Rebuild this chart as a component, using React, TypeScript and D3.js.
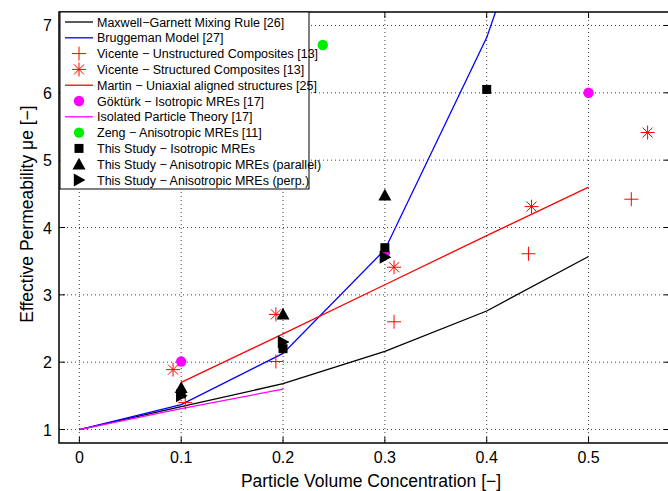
import React from "react";
import * as d3 from "d3";

const W = 668;
const H = 491;

// Data
const mgX = [0, 0.1, 0.2, 0.3, 0.4, 0.5];
const mgY = [1, 1.34, 1.68, 2.16, 2.76, 3.57];
const brX = [0, 0.1, 0.2, 0.3, 0.4, 0.5];
const brY = [1, 1.37, 2.13, 3.67, 6.82, 11.2];
const martinX = [0.1, 0.2, 0.3, 0.4, 0.5];
const martinY = [1.7, 2.42, 3.15, 3.88, 4.6];
const isoX = [0, 0.1, 0.2];
const isoY = [1, 1.31, 1.6];
const vicUX = [0.104, 0.193, 0.309, 0.441, 0.542];
const vicUY = [1.4, 2.01, 2.6, 3.61, 4.42];
const vicSX = [0.092, 0.193, 0.309, 0.444, 0.558];
const vicSY = [1.89, 2.71, 3.41, 4.31, 5.41];
const gokX = [0.1, 0.3, 0.5];
const gokY = [2.01, 3.62, 6.0];
const zengX = [0.239];
const zengY = [6.71];
const isoMreX = [0.1, 0.2, 0.3, 0.4];
const isoMreY = [1.53, 2.2, 3.7, 6.05];
const parX = [0.1, 0.2, 0.3];
const parY = [1.62, 2.71, 4.48];
const perpX = [0.1, 0.2, 0.3];
const perpY = [1.5, 2.3, 3.56];

const xTicks = [0, 0.1, 0.2, 0.3, 0.4, 0.5];
const yTicks = [1, 2, 3, 4, 5, 6, 7];

const MINUS = "\u2212";
const xLabel = "Particle Volume Concentration [" + MINUS + "]";
const yLabel = "Effective Permeability \u03bce [" + MINUS + "]";

const legendItems = [
  { label: "Maxwell" + MINUS + "Garnett Mixing Rule [26]", kind: "line", color: "#000000" },
  { label: "Bruggeman Model [27]", kind: "line", color: "#0000ff" },
  { label: "Vicente " + MINUS + " Unstructured Composites [13]", kind: "plus", color: "#ff0000" },
  { label: "Vicente " + MINUS + " Structured Composites [13]", kind: "star", color: "#ff0000" },
  { label: "Martin " + MINUS + " Uniaxial aligned structures [25]", kind: "line", color: "#ff0000" },
  { label: "G\u00f6kt\u00fcrk " + MINUS + " Isotropic MREs [17]", kind: "circle", color: "#ff00ff" },
  { label: "Isolated Particle Theory [17]", kind: "line", color: "#ff00ff" },
  { label: "Zeng " + MINUS + " Anisotropic MREs [11]", kind: "circle", color: "#00ee00" },
  { label: "This Study " + MINUS + " Isotropic MREs", kind: "square", color: "#000000" },
  { label: "This Study " + MINUS + " Anisotropic MREs (parallel)", kind: "tri", color: "#000000" },
  { label: "This Study " + MINUS + " Anisotropic MREs (perp.)", kind: "tri-r", color: "#000000" },
];

const L = 59, R = 670, T = 12, B = 443;
const x = d3.scaleLinear().domain([-0.02, 0.58]).range([L, R]);
const y = d3.scaleLinear().domain([0.8, 7.2]).range([B, T]);

function Marker({ kind, cx, cy, color }: { kind: string; cx: number; cy: number; color: string }) {
  if (kind === "plus") {
    const s = 7;
    return (
      <g stroke={color} strokeWidth={1}>
        <line x1={cx - s} x2={cx + s} y1={cy} y2={cy} />
        <line x1={cx} x2={cx} y1={cy - s} y2={cy + s} />
      </g>
    );
  }
  if (kind === "star") {
    const s = 7;
    const d = s * 0.72;
    return (
      <g stroke={color} strokeWidth={1}>
        <line x1={cx - s} x2={cx + s} y1={cy} y2={cy} />
        <line x1={cx} x2={cx} y1={cy - s} y2={cy + s} />
        <line x1={cx - d} x2={cx + d} y1={cy - d} y2={cy + d} />
        <line x1={cx - d} x2={cx + d} y1={cy + d} y2={cy - d} />
      </g>
    );
  }
  if (kind === "circle") {
    return <circle cx={cx} cy={cy} r={5.2} fill={color} />;
  }
  if (kind === "square") {
    return <rect x={cx - 4.5} y={cy - 4.5} width={9} height={9} fill={color} />;
  }
  if (kind === "tri") {
    const s = 6.5;
    return <path d={`M${cx},${cy - s}L${cx + s},${cy + s * 0.8}L${cx - s},${cy + s * 0.8}Z`} fill={color} />;
  }
  if (kind === "tri-r") {
    const s = 6.5;
    return <path d={`M${cx + s},${cy}L${cx - s * 0.8},${cy - s}L${cx - s * 0.8},${cy + s}Z`} fill={color} />;
  }
  return null;
}

function zipPts(xs: number[], ys: number[]) {
  return xs.map((v, i) => [v, ys[i]] as [number, number]);
}

export default function App() {
  const line = d3
    .line<[number, number]>()
    .x((d) => x(d[0]))
    .y((d) => y(d[1]));

  const font = "'Liberation Sans', Arial, Helvetica, sans-serif";

  const lines = [
    { xs: mgX, ys: mgY, color: "#000000" },
    { xs: brX, ys: brY, color: "#0000ff" },
    { xs: martinX, ys: martinY, color: "#ff0000" },
    { xs: isoX, ys: isoY, color: "#ff00ff" },
  ];

  const markerSets = [
    { xs: vicUX, ys: vicUY, kind: "plus", color: "#ff0000" },
    { xs: vicSX, ys: vicSY, kind: "star", color: "#ff0000" },
    { xs: gokX, ys: gokY, kind: "circle", color: "#ff00ff" },
    { xs: zengX, ys: zengY, kind: "circle", color: "#00ee00" },
    { xs: isoMreX, ys: isoMreY, kind: "square", color: "#000000" },
    { xs: parX, ys: parY, kind: "tri", color: "#000000" },
    { xs: perpX, ys: perpY, kind: "tri-r", color: "#000000" },
  ];

  const lgX = 60, lgY = 12, lgW = 249, lgH = 177;
  const rowH = 15.8;

  return (
    <svg width={W} height={H} style={{ position: "absolute", left: 0, top: 0, background: "#fff" }} fontFamily={font}>
      <defs>
        <clipPath id="plotClip">
          <rect x={L} y={T} width={R - L} height={B - T} />
        </clipPath>
      </defs>
      <rect x={0} y={0} width={W} height={H} fill="#fff" />
      {/* grid */}
      <g stroke="#000" strokeWidth={1} strokeDasharray="1,3" opacity={0.75}>
        {xTicks.map((t) => (
          <line key={"gx" + t} x1={x(t)} x2={x(t)} y1={T} y2={B} />
        ))}
        {yTicks.map((t) => (
          <line key={"gy" + t} x1={L} x2={R} y1={y(t)} y2={y(t)} />
        ))}
      </g>
      {/* lines */}
      <g clipPath="url(#plotClip)" fill="none" strokeWidth={1.3}>
        {lines.map((l, i) => (
          <path key={i} d={line(zipPts(l.xs, l.ys)) || ""} stroke={l.color} />
        ))}
      </g>
      {/* markers */}
      <g clipPath="url(#plotClip)">
        {markerSets.map((m, i) =>
          m.xs.map((v, j) => <Marker key={i + "-" + j} kind={m.kind} cx={x(v)} cy={y(m.ys[j])} color={m.color} />)
        )}
      </g>
      {/* axes box */}
      <g stroke="#000" strokeWidth={1.5} fill="none">
        <rect x={L} y={T} width={R - L} height={B - T} />
      </g>
      {/* ticks */}
      <g stroke="#000" strokeWidth={1}>
        {xTicks.map((t) => (
          <g key={"tx" + t}>
            <line x1={x(t)} x2={x(t)} y1={B} y2={B - 6} />
            <line x1={x(t)} x2={x(t)} y1={T} y2={T + 6} />
          </g>
        ))}
        {yTicks.map((t) => (
          <g key={"ty" + t}>
            <line x1={L} x2={L + 6} y1={y(t)} y2={y(t)} />
            <line x1={R} x2={R - 6} y1={y(t)} y2={y(t)} />
          </g>
        ))}
      </g>
      {/* tick labels */}
      <g fontSize={16} fill="#000">
        {xTicks.map((t) => (
          <text key={"lx" + t} x={x(t)} y={B + 20} textAnchor="middle">
            {d3.format("")(t)}
          </text>
        ))}
        {yTicks.map((t) => (
          <text key={"ly" + t} x={L - 7} y={y(t) + 6} textAnchor="end">
            {t}
          </text>
        ))}
      </g>
      {/* axis labels */}
      <text x={371} y={487} textAnchor="middle" fontSize={17.5} fill="#000">
        {xLabel}
      </text>
      <text transform={`translate(33, 214) rotate(-90)`} textAnchor="middle" fontSize={17.5} fill="#000">
        {yLabel}
      </text>
      {/* legend */}
      <g>
        <rect x={lgX} y={lgY} width={lgW} height={lgH} fill="#fff" stroke="#000" strokeWidth={1} />
        {legendItems.map((it, i) => {
          const cy = lgY + 10 + i * rowH;
          return (
            <g key={"lg" + i}>
              {it.kind === "line" ? (
                <line x1={65} x2={93} y1={cy} y2={cy} stroke={it.color} strokeWidth={1.3} />
              ) : (
                <Marker kind={it.kind} cx={79} cy={cy} color={it.color} />
              )}
              <text x={97} y={cy + 4.5} fontSize={12.5} fill="#000">
                {it.label}
              </text>
            </g>
          );
        })}
      </g>
    </svg>
  );
}
